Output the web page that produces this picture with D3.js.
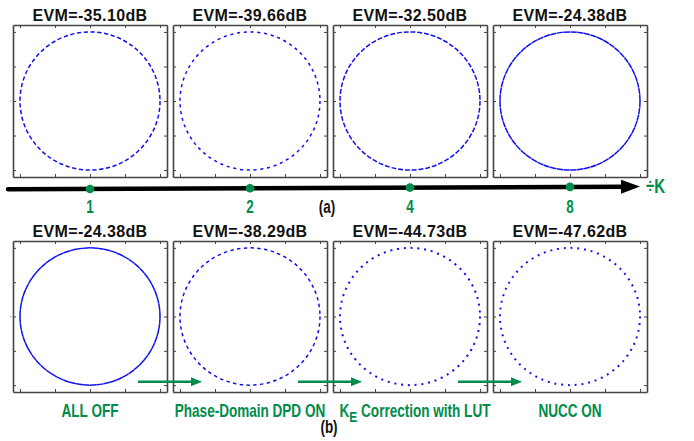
<!DOCTYPE html>
<html>
<head>
<meta charset="utf-8">
<script src="https://cdn.jsdelivr.net/npm/d3@7"></script>
<style>
  body { margin: 0; background: #fff; }
  .title { font-family: "Liberation Sans", Arial, sans-serif; font-weight: bold; font-size: 16px; letter-spacing: 0.35px; fill: #111; }
  .green { font-family: "Liberation Sans", Arial, sans-serif; font-weight: bold; fill: #008c4a; }
  .sub { font-family: "Liberation Sans", Arial, sans-serif; font-weight: bold; font-size: 17px; fill: #111; }
  .frame path, .frame line { stroke: #444; }
</style>
</head>
<body>
<div id="chart"></div>
<script>
// values
const topEvm = [-35.10, -39.66, -32.50, -24.38];
const kValues = [1, 2, 4, 8];
const bottomEvm = [-24.38, -38.29, -44.73, -47.62];
const bottomSteps = ["ALL OFF", "Phase-Domain DPD ON", "K|E| Correction with LUT", "NUCC ON"];
// how much of each phase slot the spread of the points covers (0..1)
const topSpread = [0.62, 0.45, 0.72, 0.93];
const bottomSpread = [0.97, 0.5, 0.3, 0.28];
const phaseCount = 64;
const axisTicks = [-1, -0.5, 0, 0.5, 1];

const width = 694,
      height = 441;
const svg = d3.select("#chart")
  .append("svg")
    .attr("width", width)
    .attr("height", height);

// panel positions
const panelX = d3.scaleBand()
  .domain(d3.range(4))
  .range([13, 647])
  .paddingInner(0.0375)
  .paddingOuter(0);
const pw = panelX.bandwidth();

const rows = [
  {y0: 25, h: 152, evm: topEvm, spread: topSpread},
  {y0: 241, h: 151, evm: bottomEvm, spread: bottomSpread}
];

const green = "#008c4a";
// no condensed font installed, so squeeze the text horizontally
const squeeze = 0.77;
function condensed(x, y, cls, size, anchor) {
  return svg.append("text")
    .attr("class", cls)
    .attr("transform", `translate(${x},${y}) scale(${squeeze},1)`)
    .attr("text-anchor", anchor || "middle")
    .style("font-size", size + "px");
}

rows.forEach(function(row, ri) {
  const x = d3.scaleLinear().domain([-1.1, 1.1]).range([0, pw]);
  const y = d3.scaleLinear().domain([-1.1, 1.1]).range([row.h, 0]);

  row.evm.forEach(function(v, i) {
    const g = svg.append("g")
      .attr("transform", `translate(${panelX(i)},${row.y0})`);

    // title
    g.append("text")
      .attr("class", "title")
      .attr("x", pw / 2)
      .attr("y", -4.5)
      .attr("text-anchor", "middle")
      .text(`EVM=${v.toFixed(2)}dB`);

    // circle of constellation points
    const rx = x(1) - x(0), ry = y(0) - y(1);
    const hh = Math.pow(rx - ry, 2) / Math.pow(rx + ry, 2);
    const circ = Math.PI * (rx + ry) * (1 + 3 * hh / (10 + Math.sqrt(4 - 3 * hh)));
    const period = circ / phaseCount;
    const s = row.spread[i];
    g.append("ellipse")
      .attr("cx", x(0))
      .attr("cy", y(0))
      .attr("rx", rx)
      .attr("ry", ry)
      .attr("fill", "none")
      .attr("stroke", "#1010f0")
      .attr("stroke-width", s < 0.35 ? 2 : 1.5)
      .attr("stroke-dasharray", `${period * s},${period * (1 - s)}`);

    // frame with inner ticks
    const fmt = () => "";
    const axes = [
      [d3.axisBottom(x), `translate(0,${row.h})`],
      [d3.axisTop(x), "translate(0,0)"],
      [d3.axisLeft(y), "translate(0,0)"],
      [d3.axisRight(y), `translate(${pw},0)`]
    ];
    axes.forEach(function([ax, tr]) {
      g.append("g")
        .attr("class", "frame")
        .attr("transform", tr)
        .call(ax.tickValues(axisTicks).tickSizeInner(-3).tickSizeOuter(0).tickFormat(fmt))
        .call(a => a.select(".domain").attr("stroke-width", 1.6));
    });

    if (i === 0) {
      g.append("line")
        .attr("x1", -3).attr("x2", -1.5)
        .attr("y1", y(0)).attr("y2", y(0))
        .attr("stroke", "#aaa");
    }
  });
});

// (a) K axis arrow
const lineY = d3.scaleLinear().domain([8, 640]).range([189.3, 186.6]);
svg.append("line")
  .attr("x1", 8).attr("y1", lineY(8))
  .attr("x2", 624).attr("y2", lineY(624))
  .attr("stroke", "#000")
  .attr("stroke-width", 4.5)
  .attr("stroke-linecap", "round");
svg.append("path")
  .attr("d", `M640,${lineY(640)}L621,${lineY(621) - 7}L621,${lineY(621) + 7}Z`)
  .attr("fill", "#000");

kValues.forEach(function(k, i) {
  const cx = panelX(i) + pw / 2;
  svg.append("circle")
    .attr("cx", cx)
    .attr("cy", lineY(cx))
    .attr("r", 4.3)
    .attr("fill", green);
  condensed(cx, 212.5, "green", 17.5).text(k);
});

condensed(646, 193, "green", 19.5, "start").text("÷K");

condensed(327, 213, "sub", 17.5).text("(a)");

// (b) step labels and green arrows
bottomSteps.forEach(function(label, i) {
  const cx = panelX(i) + pw / 2 + (i === 2 ? 5 : 0);
  const t = condensed(cx, 417, "green", 17.6);
  const parts = label.split("|");
  if (parts.length === 1) {
    t.text(label);
  } else {
    t.append("tspan").text(parts[0]);
    t.append("tspan").attr("dy", 5).style("font-size", "15.5px").text(parts[1]);
    t.append("tspan").attr("dy", -5).text(parts[2]);
  }

  if (i > 0) {
    const bx = panelX(i) + pw / 2;
    const xs = bx - 112, xe = bx - 48, ya = 381.7;
    svg.append("line")
      .attr("x1", xs).attr("y1", ya)
      .attr("x2", xe - 9).attr("y2", ya)
      .attr("stroke", green)
      .attr("stroke-width", 2.6);
    svg.append("path")
      .attr("d", `M${xe},${ya}L${xe - 11},${ya - 4.5}L${xe - 11},${ya + 4.5}Z`)
      .attr("fill", green);
  }
});

condensed(329, 433, "sub", 17.5).text("(b)");
</script>
</body>
</html>
